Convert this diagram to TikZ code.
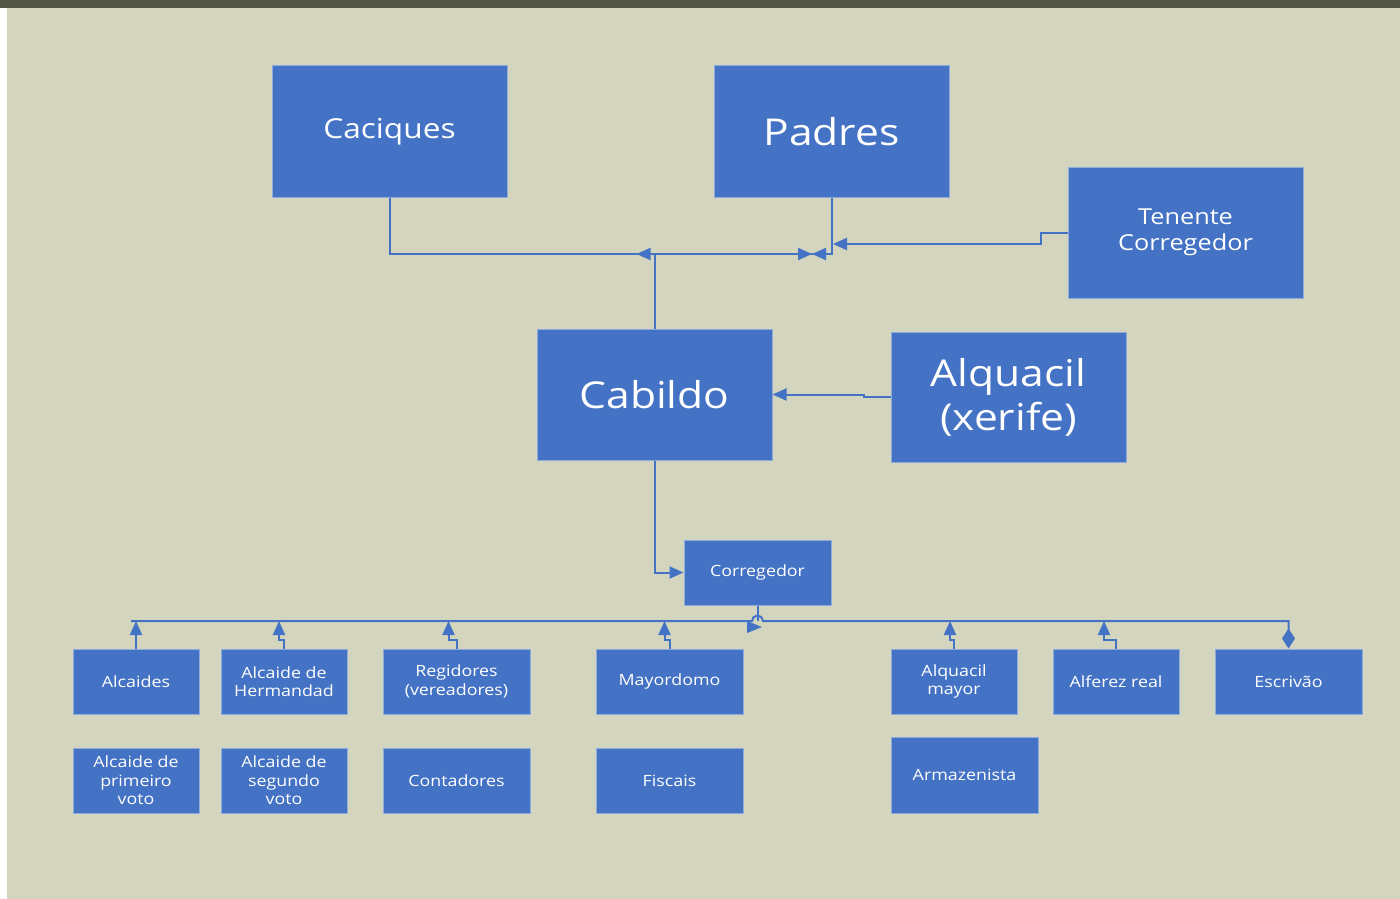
\documentclass[tikz,border=0pt]{standalone}
\usepackage{fontspec}
\setmainfont[FakeStretch=1.15]{Open Sans}
\usetikzlibrary{arrows.meta}
\definecolor{bgbeige}{HTML}{D4D5BF}
\definecolor{topband}{HTML}{535545}
\definecolor{boxblue}{HTML}{4472C4}
\definecolor{boxedge}{HTML}{8FAADC}
\tikzset{
  box/.style={rectangle, fill=boxblue, draw=boxedge, line width=1pt, text=white, align=center, inner sep=0pt},
  bigbox/.style={box, minimum width=235pt, minimum height=131pt},
  smallbox/.style={box, minimum width=126pt, minimum height=65pt, font=\fontsize{15.5}{18.5}\selectfont},
  widebox/.style={box, minimum width=147pt, minimum height=65pt, font=\fontsize{15.5}{18.5}\selectfont},
  conn/.style={draw=boxblue, line width=2pt},
  tip/.style={-{Triangle[length=14pt,width=12pt]}},
}
\begin{document}
\begin{tikzpicture}[x=1pt,y=-1pt]
\useasboundingbox (0,0) rectangle (1400,899);
\fill[bgbeige] (7,8) rectangle (1400,899);
\fill[topband] (0,0) rectangle (1400,8);

% upper level
\node[bigbox, font=\fontsize{27.5}{32}\selectfont] (cac) at (389.5,131.5) {Caciques};
\node[bigbox, font=\fontsize{37}{44}\selectfont] (pad) at (831.5,131.5) {Padres};
\node[bigbox, font=\fontsize{22}{26}\selectfont] (ten) at (1185.5,232.5) {Tenente\\Corregedor};
\node[bigbox, font=\fontsize{37}{44}\selectfont] (cab) at (654.5,394.5) {Cabildo};
\node[bigbox, minimum height=130pt, font=\fontsize{37}{44}\selectfont] (alq) at (1008.5,397) {Alquacil\\(xerife)};
\node[widebox] (cor) at (757.5,572.5) {Corregedor};

% first row
\node[smallbox] (alc) at (136,681.5) {Alcaides};
\node[smallbox] (her) at (284,681.5) {Alcaide de\\Hermandad};
\node[widebox] (reg) at (456.5,681.5) {Regidores\\(vereadores)};
\node[widebox] (may) at (669.5,681.5) {Mayordomo};
\node[smallbox] (alm) at (954,681.5) {Alquacil\\mayor};
\node[smallbox] (alf) at (1116,681.5) {Alferez real};
\node[widebox] (esc) at (1288.5,681.5) {Escrivão};

% second row
\node[smallbox] (pvo) at (136,780.5) {Alcaide de\\primeiro\\voto};
\node[smallbox] (svo) at (284,780.5) {Alcaide de\\segundo\\voto};
\node[widebox] (con) at (456.5,780.5) {Contadores};
\node[widebox] (fis) at (669.5,780.5) {Fiscais};
\node[widebox, minimum height=76pt] (arm) at (964.5,775) {Armazenista};

\coordinate (topbus) at (654.5,254);
\coordinate (tenbus) at (833,244);
\coordinate (busL) at (131,621);
\coordinate (busR) at (1288.5,621);

% connectors above Cabildo
\draw[conn] (cac.south) |- (pad.south |- topbus) -- (pad.south);
\draw[conn] (cab.north) -- (topbus);
\draw[conn,tip] (topbus) -- ++(-18,0);
\draw[conn,tip] (790,254) -- (812,254);
\draw[conn,tip] (831.5,254) -- (812,254);
\draw[conn,tip] (ten.west) -- ++(-27,0) |- (tenbus);
\draw[conn,tip] (alq.west) -- ++(-27,0) |- (cab.east);
\draw[conn,tip] (cab.south) |- (cor.west);

% lower bus
\draw[conn,-{Diamond[length=20pt,width=13pt]}] (busL) -- (752,621) arc (180:360:5.5) -- (busR) -- (esc.north);
\draw[conn] (cor.south) -- (cor.south |- busL);
\fill[boxblue] (747,621) -- (762,627) -- (747,633) -- cycle;
\foreach \n/\s in {alc/0,her/-5,reg/-8,may/-5,alm/-4,alf/-12}
  \draw[conn,tip] (\n.north) -- ++(0,-9) -| ([xshift=\s pt]\n.north |- busL);
\end{tikzpicture}
\end{document}
